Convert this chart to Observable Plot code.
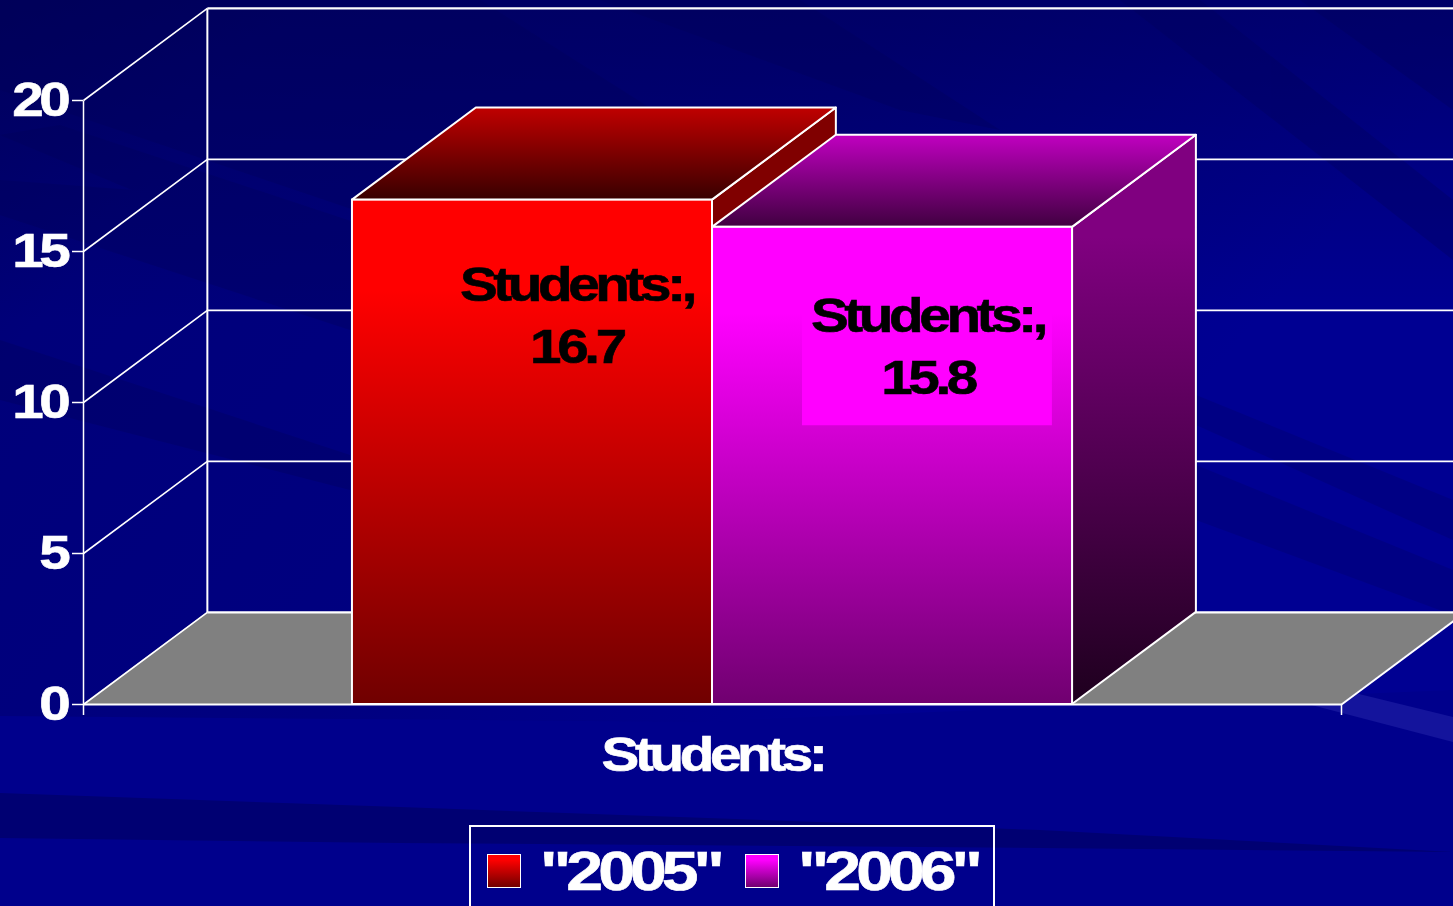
<!DOCTYPE html>
<html>
<head>
<meta charset="utf-8">
<script src="https://cdn.jsdelivr.net/npm/d3@7"></script>
<script src="https://cdn.jsdelivr.net/npm/@observablehq/plot@0.6"></script>
<style>
  html, body { margin: 0; padding: 0; width: 1453px; height: 906px; overflow: hidden; background: #00008c; }
  body { position: relative; font-family: "Liberation Sans", Arial, sans-serif; }
  #bg { position: absolute; left: 0; top: 0; }
  #chart { position: absolute; left: 0; top: 0; }
  #chart svg { display: block; background: transparent; }
  #chart text { letter-spacing: -3.7px; stroke-width: 0.6px; }
  #legend { position: absolute; left: 469px; top: 825px; width: 522px; height: 100px; border: 2px solid #fff; color: #fff; }
  #legend .sw { position: absolute; top: 27px; width: 32px; height: 32px; border: 1.5px solid #fff; }
  #legend .lb { position: absolute; top: 12px; font: bold 56px/64px "Liberation Sans", Arial, sans-serif; letter-spacing: -4.2px; white-space: nowrap; transform: scaleX(1.18); transform-origin: 0 0; -webkit-text-stroke: 0.6px #fff; }
</style>
</head>
<body>
<svg id="bg" width="1453" height="906" xmlns="http://www.w3.org/2000/svg">
  <defs>
    <linearGradient id="bgGrad" gradientUnits="userSpaceOnUse" x1="0" y1="0" x2="900" y2="750">
      <stop offset="0" stop-color="#00006c"/>
      <stop offset="0.2" stop-color="#00007a"/>
      <stop offset="0.6" stop-color="#000080"/>
      <stop offset="1" stop-color="#000092"/>
    </linearGradient>
    <linearGradient id="topShade" x1="0" y1="0" x2="0" y2="1">
      <stop offset="0" stop-color="#000040" stop-opacity="0.4"/>
      <stop offset="1" stop-color="#000040" stop-opacity="0"/>
    </linearGradient>
  </defs>
  <rect width="1453" height="906" fill="url(#bgGrad)"/>
  <rect width="1453" height="320" fill="url(#topShade)"/>
  <polygon points="0,716 700,722 1453,690 1453,906 0,906" fill="#00008c"/>
  <g fill="#000058" opacity="0.3">
    <polygon points="0,0 480,0 1000,330 620,300 0,90"/>
    <polygon points="60,125 620,310 800,400 300,260 0,135"/>
    <polygon points="0,180 200,195 560,330 350,330 0,215"/>
    <polygon points="0,340 350,455 350,490 0,400"/>
    <polygon points="1120,0 1200,0 1453,200 1453,260"/>
    <polygon points="1300,0 1453,0 1453,110"/>
    <polygon points="600,0 800,0 1000,130 900,110"/>
  </g>
  <g fill="#000070" opacity="0.4">
    <polygon points="1196,395 1453,500 1453,540 1196,425"/>
    <polygon points="1196,465 1453,570 1453,615 1196,520"/>
  </g>
  <polygon points="0,793 400,807 1040,830 1453,852 1040,848 400,843 0,838" fill="#000072"/>
  <polygon points="1310,682 1453,717 1453,742 1300,702" fill="#14149c"/>
</svg>
<div id="chart"></div>
<div id="legend">
  <div class="sw" style="left:16px;background:linear-gradient(#ff0000,#ff0000 15%,#700000)"></div>
  <div class="lb" style="left:69px">"2005"</div>
  <div class="sw" style="left:274px;background:linear-gradient(#ff00ff,#ff00ff 15%,#700070)"></div>
  <div class="lb" style="left:327px">"2006"</div>
</div>
<script>
const categories = ["2005", "2006"];
const students = [16.7, 15.8];
const axisTitle = "Students:";
const yTicks = [0, 5, 10, 15, 20];

const gap = 0.747;       // space either side of the bar cluster, in bar widths
const xMax = 3.494;      // length of the category axis, in bar widths
const depthX = 0.344;    // 3-D depth along x, in bar widths
const depthY = 3.05;     // 3-D depth along y, in value units
const farX = 3.95;       // right end of the back-wall grid lines
const labelDx = [44, 35];
const labelDy = [112, 116];

const gradientDefs = () => {
  const ns = "http://www.w3.org/2000/svg";
  const defs = document.createElementNS(ns, "defs");
  const grad = (id, stops) => {
    const g = document.createElementNS(ns, "linearGradient");
    g.setAttribute("id", id);
    g.setAttribute("x1", 0); g.setAttribute("y1", 0);
    g.setAttribute("x2", 0); g.setAttribute("y2", 1);
    for (const [o, c] of stops) {
      const s = document.createElementNS(ns, "stop");
      s.setAttribute("offset", o);
      s.setAttribute("stop-color", c);
      g.appendChild(s);
    }
    defs.appendChild(g);
  };
  grad("front0", [[0, "#ff0000"], [0.18, "#ff0000"], [1, "#700000"]]);
  grad("front1", [[0, "#ff00ff"], [0.18, "#ff00ff"], [1, "#700070"]]);
  grad("top0", [[0, "#c00000"], [1, "#380000"]]);
  grad("top1", [[0, "#c000c0"], [1, "#400040"]]);
  grad("side0", [[0, "#800000"], [0.18, "#800000"], [1, "#1e0000"]]);
  grad("side1", [[0, "#800080"], [0.18, "#800080"], [1, "#1e001e"]]);
  return defs;
};

const barX = categories.map((_, i) => gap + i);
const lineStyle = {stroke: "#fff", strokeWidth: 2};

const barMarks = categories.flatMap((cat, i) => {
  const x0 = barX[i], x1 = x0 + 1, v = students[i];
  return [
    Plot.area([{x1: x1, y1: 0, x2: x1, y2: v}, {x1: x1 + depthX, y1: depthY, x2: x1 + depthX, y2: v + depthY}],
      {x1: "x1", y1: "y1", x2: "x2", y2: "y2", fill: `url(#side${i})`, ...lineStyle}),
    Plot.area([{x1: x0, y1: v, x2: x0 + depthX, y2: v + depthY}, {x1: x1, y1: v, x2: x1 + depthX, y2: v + depthY}],
      {x1: "x1", y1: "y1", x2: "x2", y2: "y2", fill: `url(#top${i})`, ...lineStyle}),
    Plot.rect([{x1: x0, x2: x1, y1: 0, y2: v}],
      {x1: "x1", x2: "x2", y1: "y1", y2: "y2", fill: `url(#front${i})`, ...lineStyle})
  ];
});

const labelMarks = categories.map((cat, i) =>
  Plot.text([{x: barX[i] + 0.5, y: students[i], text: `${axisTitle},\n${students[i]}`}],
    {x: "x", y: "y", text: "text", dx: labelDx[i], dy: labelDy[i], fill: "#000", fontSize: 48, fontWeight: "bold", lineHeight: 1.29})
);

const plot = Plot.plot({
  width: 1453, height: 826,
  marginLeft: 83, marginRight: 112, marginTop: 100, marginBottom: 122,
  x: {domain: [0, xMax]},
  y: {domain: [0, 20]},
  style: {background: "transparent", fontFamily: '"Liberation Sans", Arial, sans-serif', overflow: "hidden"},
  marks: [
    gradientDefs,
    // floor
    Plot.area([{x1: 0, y1: 0, x2: depthX, y2: depthY}, {x1: xMax, y1: 0, x2: xMax + depthX, y2: depthY}],
      {x1: "x1", y1: "y1", x2: "x2", y2: "y2", fill: "#808080"}),
    // back wall and side wall grid
    Plot.link(yTicks, {x1: depthX, x2: farX, y1: d => d + depthY, y2: d => d + depthY, ...lineStyle, strokeWidth: d => (d === 0 || d === 20) ? 2.4 : 1.6}),
    Plot.link(yTicks, {x1: 0, x2: depthX, y1: d => d, y2: d => d + depthY, ...lineStyle, strokeWidth: 1.6}),
    Plot.link([0], {x1: depthX, x2: depthX, y1: depthY, y2: 20 + depthY, ...lineStyle}),
    Plot.link([0], {x1: 0, x2: 0, y1: 0, y2: 20, ...lineStyle, strokeWidth: 1.5}),
    Plot.link([0], {x1: xMax, x2: xMax + depthX, y1: 0, y2: depthY, ...lineStyle}),
    // axes
    Plot.axisY(yTicks, {anchor: "left", tickSize: 11, tickPadding: 6, label: null, stroke: "#fff", strokeWidth: 1.5, fill: "#fff", fontSize: 48, fontWeight: "bold"}),
    Plot.axisX([0, xMax], {anchor: "bottom", tickSize: 11, tickFormat: () => "", label: null, stroke: "#fff", strokeWidth: 1.5}),
    Plot.link([0], {x1: 0, x2: xMax, y1: 0, y2: 0, ...lineStyle}),
    // bars
    ...barMarks,
    Plot.rect([1], {x1: d => barX[d] + 0.25, x2: d => barX[d] + 0.944, y1: 9.23, y2: 14.25, fill: "#ff00ff"}),
    ...labelMarks,
    Plot.text([axisTitle], {x: xMax / 2, y: 0, dy: 51, text: d => d, fill: "#fff", fontSize: 48, fontWeight: "bold"})
  ]
});
document.getElementById("chart").appendChild(plot);
// the reference's type is stretched horizontally and heavy: widen each label about its own anchor
plot.querySelectorAll("text").forEach((t) => {
  t.setAttribute("transform", `${t.getAttribute("transform") || ""} scale(1.18,1)`);
  t.style.stroke = getComputedStyle(t).fill;
});
</script>
</body>
</html>
